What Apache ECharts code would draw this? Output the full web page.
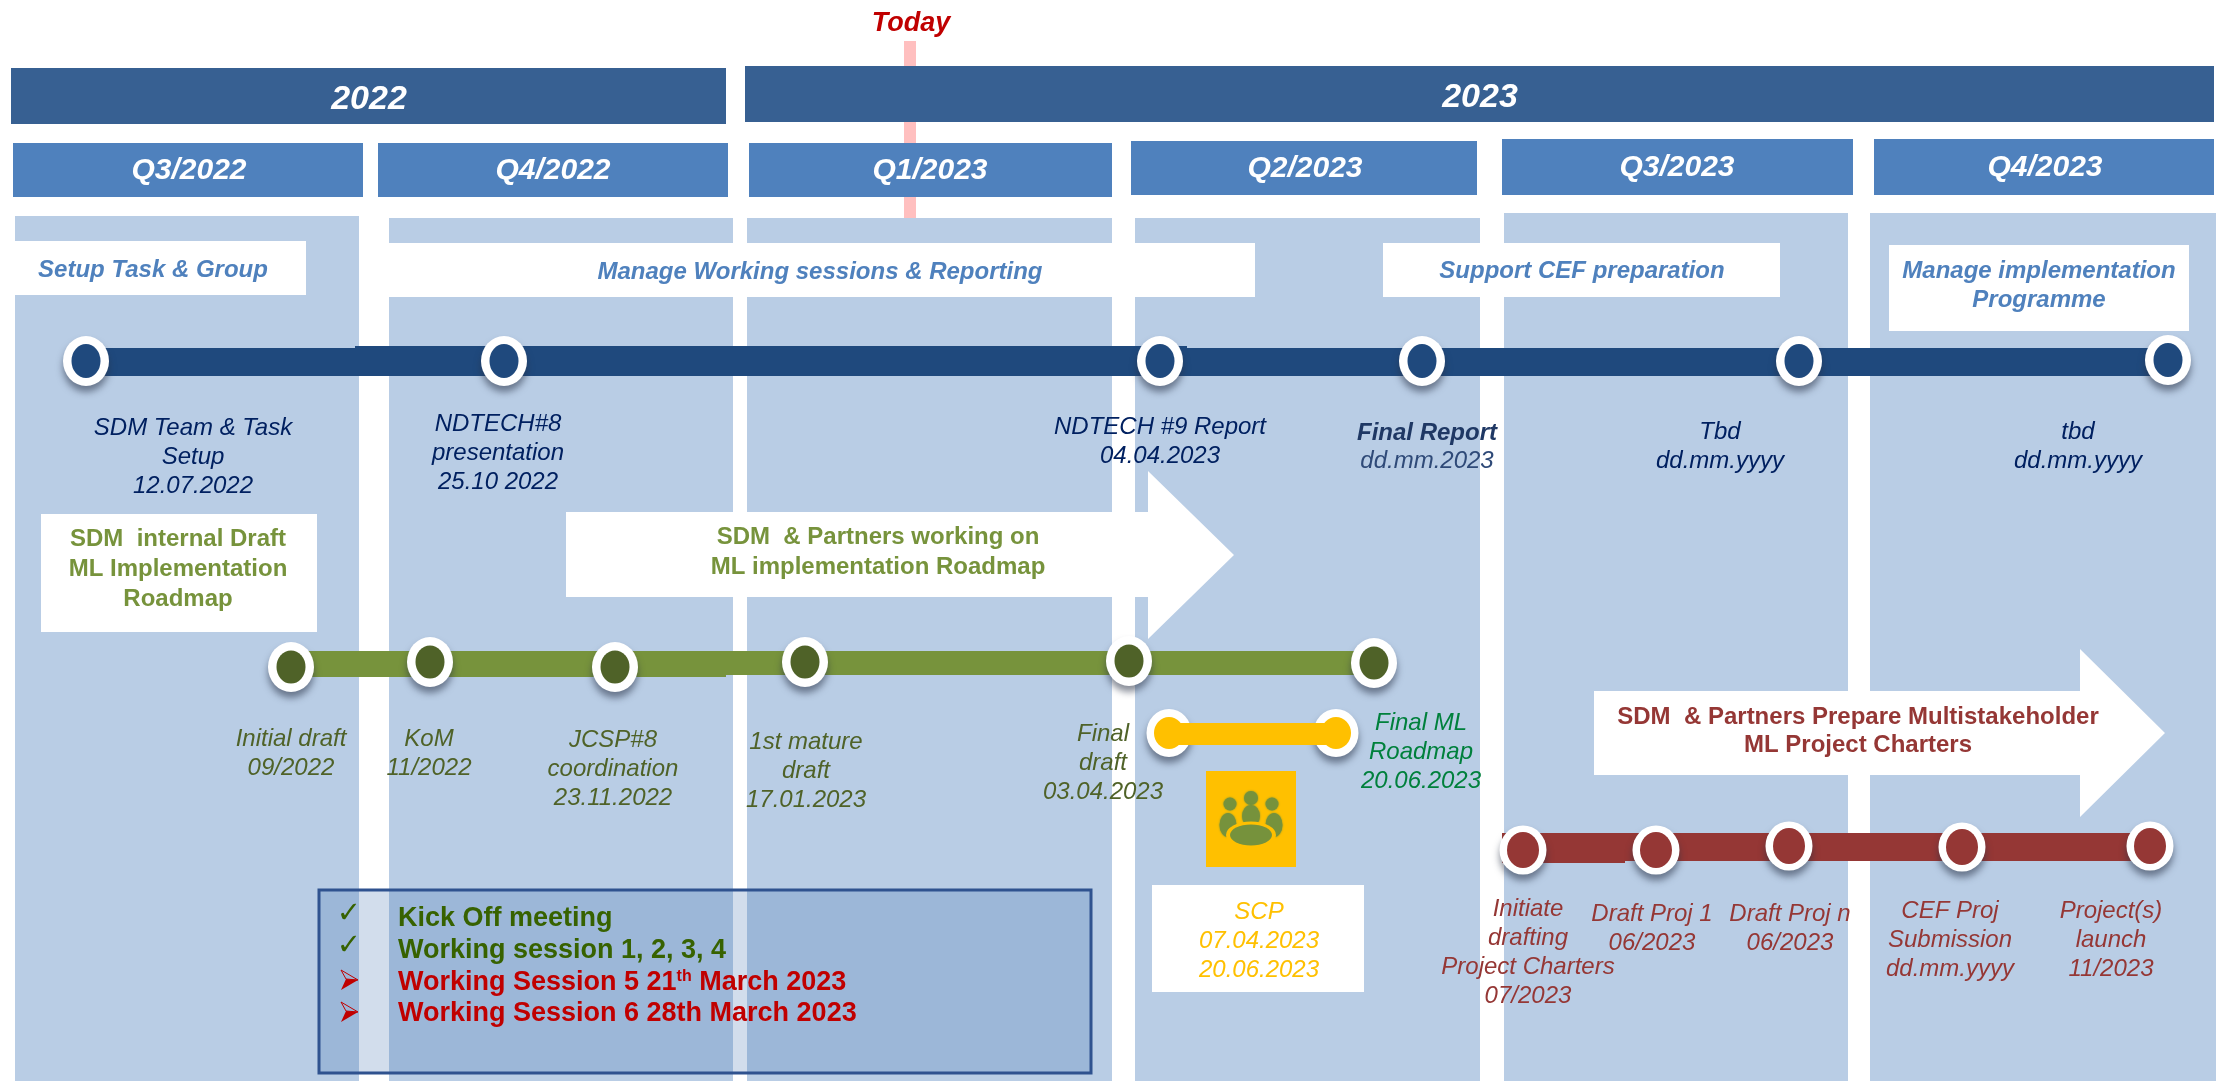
<!DOCTYPE html>
<html>
<head>
<meta charset="utf-8">
<title>Roadmap</title>
<script src="https://cdn.jsdelivr.net/npm/echarts@6/dist/echarts.min.js"></script>
<style>
html, body { margin: 0; padding: 0; background: #fff; }
#chart { width: 2219px; height: 1081px; }
</style>
</head>
<body>
<div id="chart"></div>
<script>
// year and quarter header bands
const years = ['2022', '2023'];
const yearStart = [11, 745];
const yearEnd = [726, 2214];
const yearTop = [68, 66];
const yearBottom = [124, 122];
const yearLabelX = [369, 1480];
const yearLabelY = [98, 96];

const quarters = ['Q3/2022', 'Q4/2022', 'Q1/2023', 'Q2/2023', 'Q3/2023', 'Q4/2023'];
const quarterStart = [13, 378, 749, 1131, 1502, 1874];
const quarterEnd = [363, 728, 1112, 1477, 1853, 2214];
const quarterTop = [143, 143, 143, 141, 139, 139];
const quarterBottom = [197, 197, 197, 195, 195, 195];
const quarterLabelX = [189, 553, 930, 1305, 1677, 2045];
const quarterLabelY = [169, 169, 169, 167, 166, 166];

const columnStart = [15, 389, 747, 1135, 1504, 1870];
const columnEnd = [359, 733, 1112, 1480, 1848, 2216];
const columnTop = [216, 218, 218, 218, 213, 213];
const columnBottom = [1081, 1081, 1081, 1081, 1081, 1081];

// today marker
const todayLabel = 'Today';
const todayX = [904, 916];
const todayY = [41, 218];

// white task boxes
const taskStart = [0, 360, 1383, 1889, 41, 1152];
const taskEnd = [306, 1255, 1780, 2189, 317, 1364];
const taskTop = [241, 243, 243, 245, 514, 885];
const taskBottom = [295, 297, 297, 331, 632, 992];
const tasks = ['Setup Task & Group', 'Manage Working sessions & Reporting', 'Support CEF preparation', 'Manage implementation\nProgramme'];
const taskLabelX = [153, 820, 1582, 2039];
const taskLabelY = [268, 270, 269, 284];

// blue track
const blueStart = [85, 355, 1187];
const blueEnd = [355, 1187, 2168];
const blueTop = [348, 346, 348];
const blueBottom = [376, 376, 376];
const blueDotX = [86, 504, 1160, 1422, 1799, 2168];
const blueDotY = [361, 361, 361, 361, 361, 360];
const blueLabels = ['SDM Team & Task\nSetup\n12.07.2022', 'NDTECH#8\npresentation\n25.10 2022', 'NDTECH #9 Report\n04.04.2023', 'Tbd\ndd.mm.yyyy', 'tbd\ndd.mm.yyyy'];
const blueLabelX = [193, 498, 1160, 1720, 2078];
const blueLabelY = [455, 451, 440, 445, 445];
const finalReport = 'Final Report';
const finalReportDate = 'dd.mm.2023';

// green track
const greenStart = [291, 726];
const greenEnd = [726, 1375];
const greenTop = [651, 651];
const greenBottom = [677, 675];
const greenDotX = [291, 430, 615, 805, 1129, 1374];
const greenDotY = [667, 662, 667, 662, 661, 663];
const greenLabels = ['Initial draft\n09/2022', 'KoM\n11/2022', 'JCSP#8\ncoordination\n23.11.2022', '1st mature\ndraft\n17.01.2023', 'Final\ndraft\n03.04.2023'];
const greenLabelX = [291, 429, 613, 806, 1103];
const greenLabelY = [752, 752, 767, 769, 761];
const finalMl = 'Final ML\nRoadmap\n20.06.2023';
const greenHeaders = ['SDM  internal Draft\nML Implementation\nRoadmap', 'SDM  & Partners working on\nML implementation Roadmap'];
const greenHeaderX = [178, 878];
const greenHeaderY = [567, 550];

// yellow SCP track
const scpStart = [1169];
const scpEnd = [1336];
const scpTop = [723];
const scpBottom = [745];
const scpDotX = [1169, 1336];
const scpDotY = [733, 733];
const scpLabel = 'SCP\n07.04.2023\n20.06.2023';

// red track
const redStart = [1502, 1625];
const redEnd = [1625, 2150];
const redTop = [833, 833];
const redBottom = [863, 861];
const redDotX = [1523, 1656, 1789, 1962, 2150];
const redDotY = [850, 850, 846, 847, 846];
const redLabels = ['Initiate\ndrafting\nProject Charters\n07/2023', 'Draft Proj 1\n06/2023', 'Draft Proj n\n06/2023', 'CEF Proj\nSubmission\ndd.mm.yyyy', 'Project(s)\nlaunch\n11/2023'];
const redLabelX = [1528, 1652, 1790, 1950, 2111];
const redLabelY = [951, 927, 927, 938, 938];
const redHeader = 'SDM  & Partners Prepare Multistakeholder\nML Project Charters';

// arrows: x of tail, x of head base, x of tip, then y of shaft and head
const arrowTail = [566, 1594];
const arrowBase = [1148, 2080];
const arrowTip = [1234, 2165];
const arrowShaftTop = [512, 691];
const arrowShaftBottom = [597, 775];
const arrowHeadTop = [471, 649];
const arrowHeadBottom = [639, 817];

// legend box
const boxX = [319, 1091];
const boxY = [890, 1073];
const doneItems = ['Kick Off meeting', 'Working session 1, 2, 3, 4'];
const doneY = [917, 949];
const doneMarkY = [912, 944];
const openItems = ['{t|Working Session 5 21}{s|th}{t| March 2023}', '{t|Working Session 6 28th March 2023}'];
const openY = [981, 1012];
const openMarkY = [980, 1012];

// meeting icon
const iconBack = [1206, 1296];
const iconBackY = [771, 867];
const iconPeopleX = [1230, 1251, 1272, 1228, 1251, 1274];
const iconPeopleY = [804, 798, 804, 825, 816, 825];
const iconPeopleW = [13, 14, 13, 17, 18, 17];
const iconPeopleH = [13, 14, 13, 24, 22, 24];
const iconTableX = [1251];
const iconTableY = [835];

const chart = echarts.init(document.getElementById('chart'));

const font = 'Liberation Sans';
let order = 0;

function rectLayer(x0, x1, y0, y1, fill, extra) {
    return {
        type: 'custom',
        silent: true,
        z: ++order,
        clip: false,
        encode: { x: 0, y: 1 },
        data: x0.map((v, i) => [v, y0[i], x1[i], y1[i]]),
        renderItem: function (params, api) {
            const a = api.coord([api.value(0), api.value(1)]);
            const b = api.coord([api.value(2), api.value(3)]);
            return {
                type: 'rect',
                shape: { x: a[0], y: a[1], width: b[0] - a[0], height: b[1] - a[1] },
                style: Object.assign({ fill: fill }, extra || {})
            };
        }
    };
}

function textLayer(labels, xs, ys, style) {
    return {
        type: 'custom',
        silent: true,
        z: ++order,
        clip: false,
        encode: { x: 0, y: 1 },
        data: xs.map((v, i) => [v, ys[i]]),
        renderItem: function (params, api) {
            const c = api.coord([api.value(0), api.value(1)]);
            return {
                type: 'text',
                style: Object.assign({
                    text: labels[params.dataIndex],
                    x: c[0],
                    y: c[1] + 2,
                    align: 'center',
                    verticalAlign: 'middle',
                    fontFamily: font,
                    fontSize: 24,
                    lineHeight: 29
                }, style)
            };
        }
    };
}

function dotLayer(xs, ys, color, size, shadow) {
    return {
        type: 'scatter',
        silent: true,
        z: ++order,
        clip: false,
        symbol: 'circle',
        symbolSize: size,
        data: xs.map((v, i) => [v, ys[i]]),
        itemStyle: Object.assign({ opacity: 1, color: color }, shadow ? {
            shadowBlur: 7,
            shadowOffsetY: 6,
            shadowColor: 'rgba(40,50,70,0.55)'
        } : {})
    };
}

function arrowLayer() {
    return {
        type: 'custom',
        silent: true,
        z: ++order,
        clip: false,
        encode: { x: 0, y: 1 },
        data: arrowTail.map((v, i) => [v, arrowShaftTop[i]]),
        renderItem: function (params, api) {
            const i = params.dataIndex;
            const pts = [
                [arrowTail[i], arrowShaftTop[i]],
                [arrowBase[i], arrowShaftTop[i]],
                [arrowBase[i], arrowHeadTop[i]],
                [arrowTip[i], (arrowHeadTop[i] + arrowHeadBottom[i]) / 2],
                [arrowBase[i], arrowHeadBottom[i]],
                [arrowBase[i], arrowShaftBottom[i]],
                [arrowTail[i], arrowShaftBottom[i]]
            ].map(p => api.coord(p));
            return { type: 'polygon', shape: { points: pts }, style: { fill: '#fff' } };
        }
    };
}

function iconLayer() {
    return {
        type: 'scatter',
        silent: true,
        z: ++order,
        clip: false,
        symbol: 'circle',
        symbolSize: function (val) { return [val[2], val[3]]; },
        data: iconPeopleX.map((v, i) => [v, iconPeopleY[i], iconPeopleW[i], iconPeopleH[i]]),
        itemStyle: { opacity: 1, color: '#76923C', shadowBlur: 2, shadowColor: '#76923C' }
    };
}

// the red pointer bullets of the open items
function pointerLayer(ys) {
    return {
        type: 'custom',
        silent: true,
        z: ++order,
        clip: false,
        encode: { x: 0, y: 1 },
        data: ys.map(y => [349, y]),
        renderItem: function (params, api) {
            const c = api.coord([api.value(0), api.value(1)]);
            const at = (dx, dy) => [c[0] + dx, c[1] + dy];
            return {
                type: 'group',
                children: [
                    { type: 'polygon', shape: { points: [at(-8, -10), at(9, 0), at(-3, -1)] }, style: { fill: 'none', stroke: '#C00000', lineWidth: 1 } },
                    { type: 'polygon', shape: { points: [at(-8, 10), at(9, 0), at(-3, -1)] }, style: { fill: '#C00000' } }
                ]
            };
        }
    };
}

const bold = { fontWeight: 'bold' };
const italic = { fontStyle: 'italic' };
const boldItalic = { fontWeight: 'bold', fontStyle: 'italic' };

const series = [
    rectLayer(todayX.slice(0, 1), todayX.slice(1), todayY.slice(0, 1), todayY.slice(1), '#FFBFBF'),
    rectLayer(columnStart, columnEnd, columnTop, columnBottom, '#B9CDE5'),
    rectLayer(yearStart, yearEnd, yearTop, yearBottom, '#376092'),
    rectLayer(quarterStart, quarterEnd, quarterTop, quarterBottom, '#4F81BD'),
    rectLayer(taskStart, taskEnd, taskTop, taskBottom, '#fff'),
    arrowLayer(),

    textLayer([todayLabel], [911], [22], Object.assign({ fill: '#C00000', fontSize: 27 }, boldItalic)),
    textLayer(years, yearLabelX, yearLabelY, Object.assign({ fill: '#fff', fontSize: 34 }, boldItalic)),
    textLayer(quarters, quarterLabelX, quarterLabelY, Object.assign({ fill: '#fff', fontSize: 30 }, boldItalic)),
    textLayer(tasks, taskLabelX, taskLabelY, Object.assign({ fill: '#4F81BD' }, boldItalic)),
    textLayer(greenHeaders, greenHeaderX, greenHeaderY, Object.assign({ fill: '#77933C', lineHeight: 30 }, bold)),
    textLayer([redHeader], [1858], [729], Object.assign({ fill: '#953735', lineHeight: 28 }, bold)),

    rectLayer(blueStart, blueEnd, blueTop, blueBottom, '#1F497D'),
    rectLayer(greenStart, greenEnd, greenTop, greenBottom, '#77933C'),
    rectLayer(redStart, redEnd, redTop, redBottom, '#953735'),
    dotLayer(blueDotX, blueDotY, '#fff', [46, 50], true),
    dotLayer(blueDotX, blueDotY, '#1F497D', [29, 34]),
    dotLayer(greenDotX, greenDotY, '#fff', [46, 50], true),
    dotLayer(greenDotX, greenDotY, '#4F6228', [29, 33]),
    dotLayer(redDotX, redDotY, '#fff', [47, 49], true),
    dotLayer(redDotX, redDotY, '#953735', [32, 36]),
    dotLayer(scpDotX, scpDotY, '#fff', [45, 48], true),
    rectLayer(scpStart, scpEnd, scpTop, scpBottom, '#FFC000'),
    dotLayer(scpDotX, scpDotY, '#FFC000', [30, 32]),

    textLayer(blueLabels, blueLabelX, blueLabelY, Object.assign({ fill: '#002060' }, italic)),
    textLayer([finalReport], [1427], [431], Object.assign({ fill: '#1F3864' }, boldItalic)),
    textLayer([finalReportDate], [1427], [459], Object.assign({ fill: '#2F4A78' }, italic)),
    textLayer(greenLabels, greenLabelX, greenLabelY, Object.assign({ fill: '#4F6228' }, italic)),
    textLayer([finalMl], [1421], [750], Object.assign({ fill: '#00803C' }, italic)),
    textLayer(redLabels, redLabelX, redLabelY, Object.assign({ fill: '#953735' }, italic)),

    rectLayer(iconBack.slice(0, 1), iconBack.slice(1), iconBackY.slice(0, 1), iconBackY.slice(1), '#FFC000'),
    iconLayer(),
    dotLayer(iconTableX, iconTableY, '#FFC000', [50, 27]),
    dotLayer(iconTableX, iconTableY, '#76923C', [42, 21]),
    textLayer([scpLabel], [1259], [939], Object.assign({ fill: '#FFC000' }, italic)),

    rectLayer(boxX.slice(0, 1), boxX.slice(1), boxY.slice(0, 1), boxY.slice(1), 'rgba(68,114,176,0.24)', { stroke: '#2F528F', lineWidth: 3 }),
    textLayer(doneItems, [398, 398], doneY, { fill: '#376200', fontSize: 27, fontWeight: 'bold', align: 'left' }),
    textLayer(['\u2713', '\u2713'], [349, 349], doneMarkY, { fill: '#376200', fontSize: 29, fontFamily: 'DejaVu Sans' }),
    textLayer(openItems, [398, 398], openY, {
        align: 'left',
        rich: {
            t: { fill: '#C00000', fontSize: 27, fontWeight: 'bold', fontFamily: font },
            s: { fill: '#C00000', fontSize: 16, fontWeight: 'bold', fontFamily: font, verticalAlign: 'top' }
        }
    }),
    pointerLayer(openMarkY)
];

chart.setOption({
    animation: false,
    tooltip: { show: false },
    grid: { left: 0, right: 0, top: 0, bottom: 0 },
    xAxis: { type: 'value', min: 0, max: 2219, show: false },
    yAxis: { type: 'value', min: 0, max: 1081, inverse: true, show: false },
    series: series
});
</script>
</body>
</html>
